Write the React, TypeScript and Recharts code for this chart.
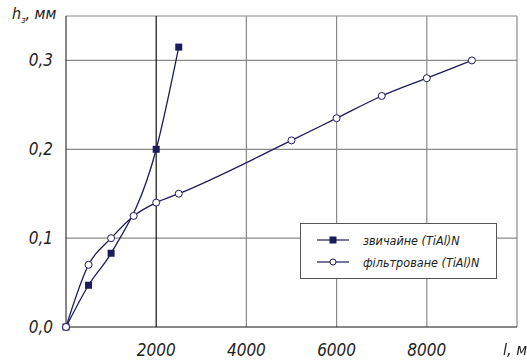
import { LineChart, Line, XAxis, YAxis, CartesianGrid, ReferenceLine } from 'recharts'

const ordinaryL = [0, 500, 1000, 2000, 2500]
const ordinaryH = [0, 0.047, 0.083, 0.2, 0.315]
const filteredL = [0, 500, 1000, 1500, 2000, 2500, 5000, 6000, 7000, 8000, 9000]
const filteredH = [0, 0.07, 0.1, 0.125, 0.14, 0.15, 0.21, 0.235, 0.26, 0.28, 0.3]
const xTicks = [2000, 4000, 6000, 8000]
const yTicks = [0, 0.1, 0.2, 0.3]
const seriesNames = ['звичайне (TiAl)N', 'фільтроване (TiAl)N']

const ordinary = ordinaryL.map((l, i) => ({ l, h: ordinaryH[i] }))
const filtered = filteredL.map((l, i) => ({ l, h: filteredH[i] }))

const navy = '#1c1c5c'
const font = '"DejaVu Sans Condensed", "Liberation Sans Narrow", sans-serif'

const SquareDot = (props: any) => {
  const { cx, cy } = props
  return <rect x={cx - 3.5} y={cy - 3.5} width={7} height={7} fill={navy} />
}

const CircleDot = (props: any) => {
  const { cx, cy } = props
  return <circle cx={cx} cy={cy} r={3.5} fill="#fff" stroke={navy} strokeWidth={1} />
}

function LegendBox() {
  const row = (i: number) => (
    <div style={{ display: 'flex', alignItems: 'center', height: 22, whiteSpace: 'nowrap' }}>
      <svg width={40} height={10} style={{ marginRight: 10 }}>
        <line x1={4} y1={5} x2={36} y2={5} stroke={navy} strokeWidth={1.2} />
        {i === 0 ? (
          <rect x={16.5} y={1.5} width={7} height={7} fill={navy} />
        ) : (
          <circle cx={20} cy={5} r={3} fill="#fff" stroke={navy} />
        )}
      </svg>
      <span>{seriesNames[i]}</span>
    </div>
  )
  return (
    <div
      style={{
        position: 'absolute',
        left: 300,
        top: 223,
        width: 197,
        height: 56,
        boxSizing: 'border-box',
        border: '1px solid #555',
        background: '#fff',
        padding: '5px 0 0 12px',
        fontFamily: font,
        fontStyle: 'italic',
        fontSize: 12.5,
        color: '#222',
      }}
    >
      {row(0)}
      {row(1)}
    </div>
  )
}

export default function App() {
  return (
    <div style={{ position: 'fixed', left: 0, top: 0, width: 527, height: 363, background: '#fff' }}>
      <LineChart width={527} height={363} margin={{ top: 16, right: 10, left: 0, bottom: 0 }}>
        <CartesianGrid
          stroke="#8a8a8a"
          strokeWidth={1.2}
          horizontalValues={[0.1, 0.2, 0.3, 0.35]}
          verticalValues={[4000, 6000, 8000, 10000]}
        />
        <XAxis
          type="number"
          dataKey="l"
          domain={[0, 10000]}
          ticks={xTicks}
          height={36}
          stroke="#111"
          tickLine={false}
          tick={{ fill: '#222', fontFamily: font, fontStyle: 'italic', fontSize: 17 }}
          tickMargin={11}
          allowDuplicatedCategory={false}
        />
        <YAxis
          type="number"
          dataKey="h"
          domain={[0, 0.35]}
          ticks={yTicks}
          width={66}
          stroke="#111"
          tickLine={false}
          tickFormatter={(v: number) => v.toFixed(1).replace('.', ',')}
          tick={{ fill: '#222', fontFamily: font, fontStyle: 'italic', fontSize: 17 }}
          tickMargin={7}
        />
        <ReferenceLine x={2000} stroke="#111" strokeWidth={1.2} />
        <Line
          data={ordinary}
          dataKey="h"
          name={seriesNames[0]}
          type="monotone"
          stroke={navy}
          strokeWidth={1.3}
          dot={<SquareDot />}
          isAnimationActive={false}
        />
        <Line
          data={filtered}
          dataKey="h"
          name={seriesNames[1]}
          type="monotone"
          stroke={navy}
          strokeWidth={1.3}
          dot={<CircleDot />}
          isAnimationActive={false}
        />
      </LineChart>
      <LegendBox />
      <div
        style={{
          position: 'absolute',
          left: 12,
          top: 4,
          fontFamily: font,
          fontStyle: 'italic',
          fontSize: 16,
          color: '#222',
        }}
      >
        h<sub style={{ fontSize: 9 }}>з</sub>, мм
      </div>
      <div
        style={{
          position: 'absolute',
          left: 503,
          top: 340,
          fontFamily: font,
          fontStyle: 'italic',
          fontSize: 16,
          color: '#222',
        }}
      >
        l, м
      </div>
    </div>
  )
}
